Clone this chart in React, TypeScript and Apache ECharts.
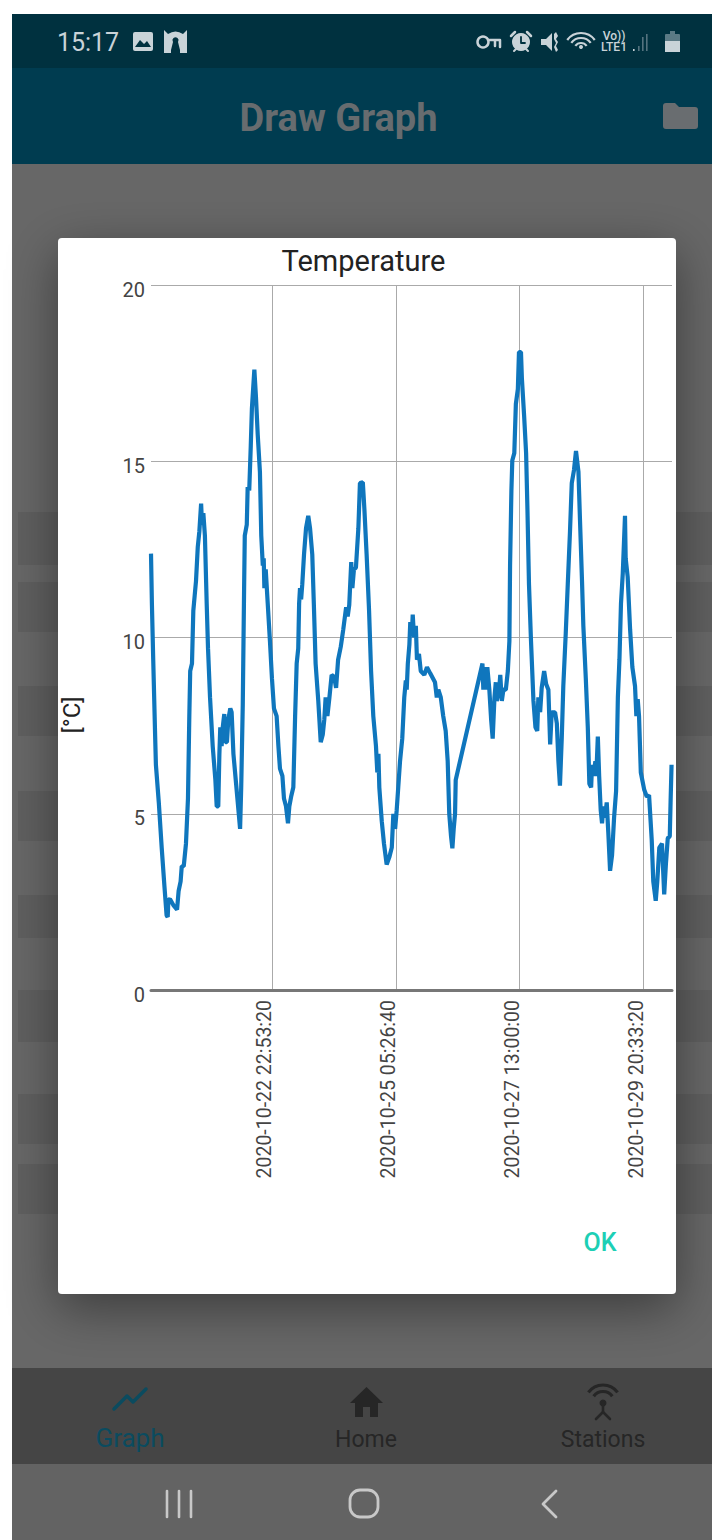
import React, { useEffect, useRef } from "react";
import * as echarts from "echarts";

const chartTitle = "Temperature";
const yAxisTitle = "[°C]";
const yTickStep = 5;
const yMax = 20;
const xMax = 233.9;
// x positions are hours since the first reading
const tickHours = [54.3, 109.9, 165.5, 221.1];
const tickLabels = ["2020-10-22 22:53:20", "2020-10-25 05:26:40", "2020-10-27 13:00:00", "2020-10-29 20:33:20"];

const hours = [
  0, 0.4, 1.0, 1.8, 2.2, 3.5, 4.8, 6.0, 7.0, 7.5, 7.8, 8.5, 10.2, 11.7, 12.4, 13.3, 13.8, 14.7, 15.7, 16.6,
  17.2, 17.6, 18.4, 19.0, 19.6, 20.2, 21.0, 21.7, 22.5, 22.9, 23.5, 24.2, 25.0, 25.6, 26.5, 27.7, 28.9, 29.5, 30.2, 30.7,
  31.1, 31.7, 32.2, 32.9, 33.4, 34.1, 34.7, 35.6, 36.2, 37.0, 38.2, 39.4, 40.0, 40.5, 41.2, 41.8, 42.1, 43.0, 43.4, 44.1,
  44.8, 45.3, 46.4, 47.1, 47.9, 48.9, 49.5, 50.2, 50.6, 50.9, 51.5, 52.4, 53.4, 54.3, 55.2, 56.4, 57.2, 57.9, 59.0, 59.7,
  60.6, 61.5, 62.1, 62.9, 63.9, 64.7, 65.4, 66.1, 66.5, 66.9, 67.4, 67.9, 68.7, 69.6, 70.6, 71.4, 72.4, 73.2, 73.9, 75.1,
  76.2, 77.1, 77.8, 78.4, 79.2, 80.1, 81.1, 82.2, 83.1, 84.0, 85.2, 86.3, 87.6, 88.3, 89.0, 89.9, 90.4, 91.1, 92.0, 93.1,
  93.8, 95.1, 95.8, 96.8, 97.9, 98.8, 99.8, 101.0, 101.6, 102.1, 102.5, 103.6, 104.6, 105.8, 107.0, 108.1, 108.8, 109.6, 110.3, 111.0,
  111.8, 112.8, 113.7, 114.4, 114.8, 115.3, 116.0, 116.4, 117.1, 117.5, 118.1, 118.9, 119.4, 120.3, 121.1, 122.7, 123.9, 125.3, 127.5, 128.3,
  129.0, 130.1, 131.2, 132.3, 133.2, 133.9, 134.7, 135.3, 135.9, 136.5, 136.8, 148.8, 149.2, 150.0, 150.4, 151.0, 151.9, 152.7, 153.4, 154.2,
  154.8, 155.2, 156.3, 156.8, 157.5, 158.2, 159.3, 160.2, 160.9, 161.2, 161.8, 162.2, 163.1, 163.8, 164.7, 165.2, 166.1, 166.5, 167.5, 168.4,
  169.0, 169.7, 170.6, 171.7, 172.6, 173.4, 173.9, 174.7, 175.4, 176.5, 177.4, 178.4, 179.2, 179.9, 181.4, 182.2, 182.9, 183.6, 184.4, 185.1,
  186.2, 187.1, 188.1, 188.9, 189.9, 190.8, 191.9, 192.6, 193.5, 194.1, 195.2, 196.1, 196.8, 197.6, 198.0, 198.6, 199.5, 199.9, 200.6, 201.2,
  201.9, 202.5, 203.1, 203.8, 204.6, 205.3, 206.1, 207.0, 207.9, 208.8, 209.6, 210.3, 211.0, 211.8, 212.8, 213.1, 214.0, 215.1, 216.1, 217.3,
  217.9, 218.5, 219.1, 219.9, 221.4, 222.6, 223.6, 224.8, 225.5, 226.6, 227.3, 228.2, 229.4, 230.4, 231.2, 232.0, 232.9, 233.3, 233.7,
];

const temperature = [
  12.38, 10.97, 9.37, 7.35, 6.39, 5.32, 4.04, 2.97, 2.12, 2.07, 2.55, 2.58, 2.39, 2.28, 2.81, 3.08, 3.51, 3.51, 4.15, 5.43,
  7.77, 9.05, 9.26, 10.76, 11.18, 11.6, 12.57, 13.0, 13.8, 13.2, 13.53, 12.89, 10.97, 9.69, 8.3, 6.92, 5.96, 5.21, 5.21, 6.7,
  7.45, 6.92, 7.45, 7.83, 7.03, 7.03, 7.67, 7.99, 7.88, 6.7, 5.85, 5.0, 4.57, 5.75, 8.09, 11.4, 12.89, 13.2, 14.27, 14.17,
  15.45, 16.5, 17.6, 16.85, 15.77, 14.7, 12.89, 12.04, 12.25, 11.4, 11.93, 10.97, 9.9, 8.84, 7.99, 7.77, 6.92, 6.28, 6.07, 5.43,
  5.21, 4.73, 5.21, 5.48, 5.75, 7.77, 9.26, 9.69, 10.97, 11.4, 11.08, 11.5, 12.36, 13.1, 13.45, 13.1, 12.36, 10.76, 9.26, 8.2,
  7.03, 7.24, 7.67, 8.3, 7.77, 8.3, 8.94, 8.89, 8.57, 9.37, 9.74, 10.22, 10.86, 10.6, 10.92, 12.14, 11.4, 11.93, 11.98, 13.1,
  14.38, 14.4, 13.64, 12.36, 10.76, 9.05, 7.77, 6.92, 6.17, 6.7, 5.75, 4.79, 4.15, 3.56, 3.77, 4.04, 5.0, 4.57, 5.1, 5.75,
  6.49, 7.13, 8.3, 8.78, 8.52, 9.26, 9.8, 10.44, 10.06, 10.65, 10.0, 10.33, 9.37, 9.53, 9.05, 8.94, 9.16, 8.99, 8.73, 8.3,
  8.52, 8.3, 7.77, 7.35, 6.49, 5.0, 4.36, 4.02, 4.57, 5.0, 5.96, 9.26, 8.52, 9.16, 8.52, 9.16, 8.52, 7.67, 7.13, 8.3,
  8.73, 8.2, 8.52, 8.94, 8.2, 8.52, 8.52, 9.05, 9.9, 12.04, 14.17, 15.02, 15.23, 16.62, 17.05, 18.1, 18.1, 17.36, 16.3, 15.23,
  13.64, 11.5, 9.9, 8.2, 7.45, 7.35, 8.3, 7.88, 8.57, 9.05, 8.68, 8.52, 6.97, 7.88, 7.88, 7.56, 6.49, 5.8, 7.13, 8.62,
  10.12, 11.5, 13.0, 14.38, 14.75, 15.29, 14.7, 13.32, 11.6, 10.33, 8.84, 7.45, 5.85, 5.75, 6.39, 6.07, 6.49, 6.07, 7.19, 6.07,
  5.1, 4.73, 5.21, 4.89, 5.32, 4.47, 3.38, 3.83, 4.89, 5.64, 8.3, 9.37, 10.97, 11.82, 13.45, 12.25, 11.72, 10.22, 9.16, 8.62,
  7.77, 8.25, 7.77, 6.17, 5.69, 5.48, 5.53, 4.25, 3.08, 2.53, 3.08, 4.04, 4.15, 2.71, 3.61, 4.31, 4.36, 5.43, 6.39,
];

const rowBands = [
  [512, 565], [582, 632], [686, 736], [791, 841], [895, 938], [990, 1042], [1094, 1144], [1164, 1214],
];

const FONT = "Roboto";

echarts.graphic.registerShape("folderIcon", echarts.graphic.extendPath("M0 3 Q0 0 3 0 L12 0 L16 4 L32 4 Q35 4 35 7 L35 23 Q35 26 32 26 L3 26 Q0 26 0 23 Z", {}));
echarts.graphic.registerShape("homeIcon", echarts.graphic.extendPath("M16.5 0 L33 16 L28 16 L28 30 L20 30 L20 20 L13 20 L13 30 L5 30 L5 16 L0 16 Z", {}));
echarts.graphic.registerShape("archIcon", echarts.graphic.extendPath("M0 0 L4 4 Q11.5 -1 19 4 L23 0 L23 23 L16 23 L16 20 L14 12 A3 3 0 1 0 9 12 L7 20 L7 23 L0 23 Z M4 22 L4 10 Q11.5 0 19 10 L19 22 L18 22 L18 11 Q11.5 3 5 11 L5 22 Z", {}));
echarts.graphic.registerShape("muteIcon", echarts.graphic.extendPath("M0 7 L5 7 L11 1 L11 19 L5 13 L0 13 Z M13 2 L15 0 L17 4 L15 7 L17 10 L15 14 L17 18 L15 20 L13 15 L15 11 L13 7 Z", {}));

function text(t: string, x: number, y: number, size: number, fill: string, weight: any = 400, extra: any = {}) {
  return {
    type: "text", x, y, z: -5, ...extra,
    style: { text: t, fontFamily: FONT, fontSize: size, fontWeight: weight, fill, align: "center", verticalAlign: "middle" },
  };
}
function rect(x: number, y: number, width: number, height: number, fill: string, z = -9, extra: any = {}) {
  return { type: "rect", z, shape: { x, y, width, height, ...(extra.shape || {}) }, style: { fill, ...(extra.style || {}) } };
}
function line(pts: number[][], stroke: string, lineWidth: number) {
  return { type: "polyline", z: -5, shape: { points: pts }, style: { stroke, lineWidth, fill: "none", lineCap: "round", lineJoin: "round" } };
}
function arc(cx: number, cy: number, r: number, stroke: string, lineWidth: number, a0 = -Math.PI * 0.8, a1 = -Math.PI * 0.2) {
  return { type: "arc", z: -5, shape: { cx, cy, r, startAngle: a0, endAngle: a1 }, style: { stroke, lineWidth, fill: "none" } };
}

function backdrop() {
  const icon = "#c9d3d8";
  const els: any[] = [
    rect(12, 14, 700, 1526, "#676767", -20),
    rect(12, 14, 700, 54, "#00313f", -19),
    rect(12, 68, 700, 96, "#003c50", -19),
    rect(12, 1464, 700, 76, "#636363", -19),
  ];
  rowBands.forEach(([a, b]) => {
    els.push(rect(18, a, 44, b - a, "#5f5f5f", -18));
    els.push(rect(670, a, 42, b - a, "#5f5f5f", -18));
  });
  els.push({
    type: "rect", z: -11,
    shape: { x: 58, y: 238, width: 618, height: 1056, r: 4 },
    style: { fill: "#ffffff", shadowBlur: 50, shadowOffsetY: 14, shadowColor: "rgba(0,0,0,0.42)" },
  });
  els.push(rect(12, 1368, 700, 96, "#454545", -10));
  els.push(text("15:17", 88, 42, 25, icon, 400));
  els.push(rect(133, 32, 20, 19, icon, -5, { shape: { r: 2 } }));
  els.push({ type: "polygon", z: -4, shape: { points: [[135, 47], [140, 40], [144, 44], [147, 41], [151, 47]] }, style: { fill: "#00313f" } });
  els.push({ type: "archIcon", x: 164, y: 30, z: -5, style: { fill: icon } });
  els.push({ type: "circle", z: -5, shape: { cx: 483, cy: 42, r: 5.5 }, style: { fill: "none", stroke: icon, lineWidth: 2.5 } });
  els.push(line([[488, 40], [500, 40], [500, 47]], icon, 2.5));
  els.push(line([[495, 41], [495, 46]], icon, 2.5));
  els.push({ type: "circle", z: -5, shape: { cx: 521, cy: 42, r: 9 }, style: { fill: icon } });
  els.push(line([[521, 37], [521, 43], [525, 43]], "#00313f", 1.8));
  els.push(line([[511, 36], [515, 32]], icon, 2.5), line([[531, 36], [527, 32]], icon, 2.5), line([[514, 51], [516, 49]], icon, 2), line([[528, 51], [526, 49]], icon, 2));
  els.push({ type: "muteIcon", x: 541, y: 32, z: -5, style: { fill: icon } });
  els.push(arc(581, 50, 17, icon, 2.2), arc(581, 50, 12, icon, 2.2), arc(581, 50, 7, icon, 2.2));
  els.push({ type: "circle", z: -5, shape: { cx: 581, cy: 47, r: 2 }, style: { fill: icon } });
  els.push(text("Vo))", 614, 36, 12, icon, 500));
  els.push(text("LTE1", 614, 47, 12, icon, 500));
  [[633, 2], [638, 5], [642, 14], [646, 17]].forEach(([x, h], i) => {
    els.push(rect(x, 51 - h, 1.6, h, i < 1 ? icon : "#54737f", -5));
  });
  els.push(rect(665, 34, 15, 18, "#5b7a85", -5, { shape: { r: 1 } }), rect(670, 31, 5, 3, "#5b7a85", -5), rect(665, 41, 15, 11, icon, -4));
  els.push(text("Draw Graph", 338.5, 118, 38, "#676c6f", 700));
  els.push({ type: "folderIcon", x: 663, y: 103, z: -5, style: { fill: "#696d70" } });
  els.push(text(chartTitle, 363.5, 261, 29, "#222222"));
  els.push(text(yAxisTitle, 72, 715, 24, "#222222", 400, { rotation: Math.PI / 2 }));
  els.push(text("OK", 600, 1242, 25, "#1dcfb5", 500));
  els.push(line([[114, 1409], [127, 1396], [133, 1402], [146, 1389]], "#0b4b5f", 3.5));
  els.push(text("Graph", 130, 1438, 26, "#0b4b5f"));
  els.push({ type: "homeIcon", x: 350, y: 1387, z: -5, style: { fill: "#262626" } });
  els.push(text("Home", 366, 1439, 23, "#262626"));
  els.push(arc(603, 1403, 18, "#262626", 3.2), arc(603, 1403, 11.5, "#262626", 3.2));
  els.push({ type: "circle", z: -5, shape: { cx: 603, cy: 1403, r: 3.5 }, style: { fill: "#262626" } });
  els.push(line([[603, 1403], [603, 1412], [596, 1419]], "#262626", 2.6), line([[603, 1412], [610, 1419]], "#262626", 2.6));
  els.push(text("Stations", 603, 1439, 23, "#262626"));
  [167, 179, 191].forEach((x) => els.push(line([[x, 1491], [x, 1517]], "#c8c8c8", 2.6)));
  els.push({ type: "rect", z: -5, shape: { x: 350, y: 1490, width: 28, height: 27, r: 10 }, style: { fill: "none", stroke: "#c8c8c8", lineWidth: 2.8 } });
  els.push(line([[556, 1491], [543, 1504], [556, 1517]], "#c8c8c8", 2.8));
  return els;
}

export default function App() {
  const ref = useRef<HTMLDivElement>(null);
  useEffect(() => {
    document.body.style.margin = "0";
    const chart = echarts.init(ref.current!, null, { renderer: "svg" });
    chart.setOption({
      animation: false,
      backgroundColor: "#ffffff",
      textStyle: { fontFamily: FONT },
      graphic: { elements: backdrop() },
      grid: { left: 151, top: 285, width: 521, height: 705, containLabel: false },
      xAxis: {
        type: "value",
        min: 0,
        max: xMax,
        axisLine: { show: true, onZero: false, lineStyle: { color: "#777777", width: 3 } },
        axisTick: { show: false, customValues: tickHours },
        axisLabel: {
          customValues: tickHours,
          rotate: 90,
          margin: 10,
          fontSize: 19.5,
          color: "#444444",
          fontFamily: FONT,
          verticalAlign: "bottom",
          lineHeight: 14,
          formatter: (v: number) => tickLabels[tickHours.indexOf(v)] ?? "",
        },
        splitLine: { show: true, customValues: tickHours, lineStyle: { color: "#aaaaaa", width: 1 } },
      },
      yAxis: {
        type: "value",
        min: 0,
        max: yMax,
        interval: yTickStep,
        axisLine: { show: false },
        axisTick: { show: false },
        axisLabel: { margin: 6, fontSize: 20, color: "#444444", fontFamily: FONT, verticalAlign: "top", lineHeight: 9 },
        splitLine: { show: true, lineStyle: { color: "#aaaaaa", width: 1 } },
      },
      series: [
        {
          type: "line",
          name: chartTitle,
          data: hours.map((h, i) => [h, temperature[i]]),
          showSymbol: false,
          smooth: false,
          lineStyle: { color: "#0f76bd", width: 4.2 },
          itemStyle: { color: "#0f76bd" },
          clip: false,
        },
      ],
    });
    return () => chart.dispose();
  }, []);
  return <div ref={ref} style={{ width: 712, height: 1540 }} />;
}
